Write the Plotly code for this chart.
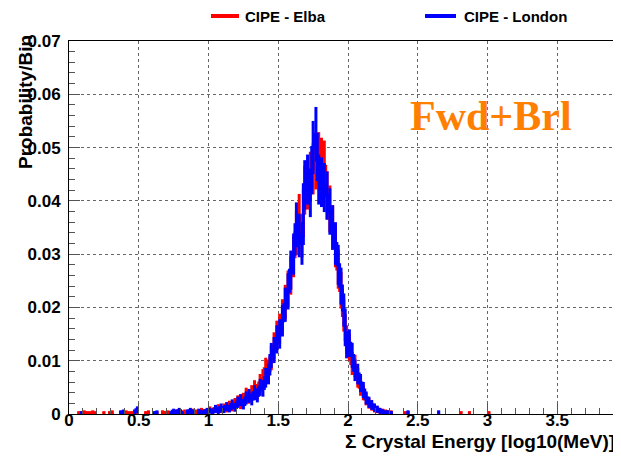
import numpy as np
import plotly.graph_objects as go

# ---------------- data (bin width 0.02, bins start at 0.00) ----------------
BIN_WIDTH = 0.02
N_ENTRIES = 2000  # used only for Poisson error bars

elba_low = [0, 0, 0, 0.0002, 0.0002, 0.0003, 0.0002, 0.0002, 0.0003, 0.0002,
            0, 0, 0.0002, 0, 0.0002, 0.0003, 0, 0, 0, 0.0002,
            0.0003, 0.0002, 0.0002, 0, 0.0003, 0, 0, 0.0002, 0.0003, 0,
            0, 0.0002, 0, 0.0003, 0.0002, 0.0003, 0, 0.0002, 0.0004, 0.0003,
            0.0002, 0.0004, 0.0003, 0.0002, 0.0005, 0.0004, 0.0003, 0.0006, 0.0004, 0.0005]
elba_core = [0.0008, 0.0006, 0.0009, 0.0011, 0.0008, 0.0012, 0.0010, 0.0016, 0.0013, 0.0020,
             0.0024, 0.0019, 0.0028, 0.0036, 0.0032, 0.0040, 0.0048, 0.0042, 0.0058, 0.0066,
             0.0085, 0.0082, 0.0105, 0.0128, 0.0148, 0.0160, 0.0185, 0.0210, 0.0235, 0.0260,
             0.0295, 0.0340, 0.0370, 0.0335, 0.0420, 0.0430, 0.0445, 0.0460, 0.0470, 0.0480,
             0.0470, 0.0465, 0.0410, 0.0385, 0.0350, 0.0315, 0.0272, 0.0232, 0.0185, 0.0140,
             0.0125, 0.0095, 0.0090, 0.0068, 0.0050, 0.0040, 0.0028, 0.0020, 0.0015, 0.0010,
             0.0008, 0.0005, 0.0005, 0.0004, 0.0003, 0.0003]
elba_tail = [0, 0, 0, 0, 0.0002, 0.0002, 0, 0, 0, 0,
             0, 0, 0, 0, 0, 0, 0, 0, 0, 0,
             0, 0, 0, 0, 0.0002, 0, 0, 0.0002, 0, 0,
             0, 0, 0, 0, 0.0002]

london_low = [0, 0, 0, 0, 0.0002, 0, 0, 0, 0, 0,
              0, 0, 0, 0, 0, 0, 0, 0, 0.0003, 0.0004,
              0, 0, 0, 0.0004, 0.0008, 0, 0, 0, 0, 0,
              0.0002, 0.0003, 0, 0, 0, 0, 0.0002, 0.0005, 0.0003, 0.0006,
              0.0002, 0, 0.0004, 0.0006, 0.0003, 0, 0.0005, 0.0003, 0.0004, 0.0006]
london_core = [0.0006, 0.0004, 0.0010, 0.0005, 0.0012, 0.0008, 0.0014, 0.0010, 0.0018, 0.0012,
               0.0022, 0.0026, 0.0018, 0.0030, 0.0034, 0.0028, 0.0040, 0.0035, 0.0050, 0.0048,
               0.0068, 0.0075, 0.0110, 0.0120, 0.0140, 0.0150, 0.0175, 0.0205, 0.0230, 0.0270,
               0.0300, 0.0355, 0.0335, 0.0320, 0.0430, 0.0440, 0.0415, 0.0500, 0.0525, 0.0440,
               0.0435, 0.0425, 0.0410, 0.0380, 0.0350, 0.0320, 0.0280, 0.0240, 0.0195, 0.0130,
               0.0133, 0.0110, 0.0082, 0.0075, 0.0058, 0.0045, 0.0030, 0.0022, 0.0017, 0.0012,
               0.0009, 0.0006, 0.0004, 0.0003, 0.0003, 0.0002]
london_tail = [0, 0, 0, 0, 0, 0.0003, 0, 0, 0, 0,
               0, 0, 0, 0, 0, 0, 0.0003, 0, 0, 0,
               0, 0, 0, 0, 0, 0, 0, 0, 0, 0,
               0, 0, 0, 0, 0]

elba = elba_low + elba_core + elba_tail
london = london_low + london_core + london_tail

series_names = ["CIPE - Elba", "CIPE - London"]
x_ticks = [0, 0.5, 1, 1.5, 2, 2.5, 3, 3.5, 4]
y_ticks = [0, 0.01, 0.02, 0.03, 0.04, 0.05, 0.06, 0.07]

RED = "#ff0000"
BLUE = "#0000ff"


def step_xy(vals):
    xs, ys = [], []
    prev_nonzero = False
    for i, v in enumerate(vals):
        lo = i * BIN_WIDTH
        hi = lo + BIN_WIDTH
        if v > 0:
            xs += [lo, hi]
            ys += [v, v]
            prev_nonzero = True
        else:
            if prev_nonzero:
                xs.append(None)
                ys.append(None)
            prev_nonzero = False
    return xs, ys


def err_xy(vals):
    v = np.array(vals, dtype=float)
    idx = np.nonzero(v > 0)[0]
    centers = (idx + 0.5) * BIN_WIDTH
    vv = v[idx]
    err = np.sqrt(vv / N_ENTRIES)
    return centers, vv, err


fig = go.Figure()
for name, vals, col in [(series_names[0], elba, RED), (series_names[1], london, BLUE)]:
    xs, ys = step_xy(vals)
    fig.add_trace(go.Scatter(x=xs, y=ys, mode="lines", name=name, showlegend=False,
                             line=dict(color=col, width=3), connectgaps=False))
    cx, cy, ce = err_xy(vals)
    fig.add_trace(go.Scatter(x=cx, y=cy, mode="markers", showlegend=False, name=name,
                             marker=dict(size=1, color=col),
                             error_y=dict(type="data", array=ce, visible=True,
                                          color=col, thickness=3, width=0)))

# page has an 8px body margin: figure is placed at (8, 8) in the window
OFF = 8
W, H = 621 - OFF, 456 - OFF
L, T = 69 - OFF, 41 - OFF
B = H - (414 - OFF)
R = 0
pw = W - L - R
ph = H - T - B
PX_PER_X = 139.5


def px_x(xw):
    return (xw - OFF - L) / pw


def px_y(yw):
    return 1 - (yw - OFF - T) / ph


tickfont = dict(family="Liberation Sans", size=17, color="black", weight="bold")
legfont = dict(family="Liberation Sans", size=15, color="black", weight="bold")
titlefont = dict(family="Liberation Sans", size=19, color="black", weight="bold")

# legend drawn as line samples + text at the top of the canvas
LEG_Y = 17
legend_items = [(series_names[0], RED, 211, 239, 244), (series_names[1], BLUE, 425, 456, 463)]
shapes = []
annotations = []
for name, col, x0, x1, xt in legend_items:
    shapes.append(dict(type="line", xref="paper", yref="paper",
                       x0=px_x(x0), x1=px_x(x1), y0=px_y(LEG_Y - 1), y1=px_y(LEG_Y - 1),
                       line=dict(color=col, width=4)))
    annotations.append(dict(text=name, xref="paper", yref="paper", x=px_x(xt), y=px_y(LEG_Y),
                            xanchor="left", yanchor="middle", showarrow=False,
                            borderpad=0, font=legfont))

annotations += [
    dict(text="Σ Crystal Energy [log10(MeV)]", xref="paper", yref="paper",
         x=px_x(616), y=px_y(441), xanchor="right", yanchor="middle",
         showarrow=False, borderpad=0, font=titlefont),
    dict(text="Probability/Bin", xref="paper", yref="paper",
         x=px_x(25), y=px_y(33), xanchor="center", yanchor="top",
         textangle=-90, showarrow=False, font=titlefont),
    dict(text="Fwd+Brl", xref="paper", yref="paper",
         x=px_x(491), y=px_y(116), xanchor="center", yanchor="middle",
         showarrow=False,
         font=dict(family="Liberation Serif", size=42, color="#ff8000", weight="bold")),
]

fig.update_layout(
    width=W, height=H,
    margin=dict(l=L, r=R, t=T, b=B, pad=0),
    paper_bgcolor="white", plot_bgcolor="white",
    showlegend=False,
    xaxis=dict(range=[0, pw / PX_PER_X], tickvals=x_ticks,
               ticktext=[f"{t:g}" for t in x_ticks],
               showgrid=True, gridcolor="#666", griddash="dot", gridwidth=1,
               showline=True, linecolor="black", linewidth=1, mirror=True,
               ticks="inside", ticklen=11, tickcolor="#555", tickwidth=1,
               minor=dict(dtick=0.1, tick0=0, ticks="inside", ticklen=6, tickcolor="#555", showgrid=False),
               tickfont=tickfont, zeroline=False, ticklabelstandoff=-9),
    yaxis=dict(range=[0, 0.07], tickvals=y_ticks,
               ticktext=[f"{t:g}" for t in y_ticks],
               showgrid=True, gridcolor="#666", griddash="dot", gridwidth=1,
               showline=True, linecolor="black", linewidth=1,
               ticks="inside", ticklen=11, tickcolor="#555", tickwidth=1,
               minor=dict(dtick=0.002, tick0=0, ticks="inside", ticklen=6, tickcolor="#555", showgrid=False),
               tickfont=tickfont, zeroline=False, ticklabelstandoff=4),
    shapes=shapes,
    annotations=annotations,
)

fig.write_html("out.html")
